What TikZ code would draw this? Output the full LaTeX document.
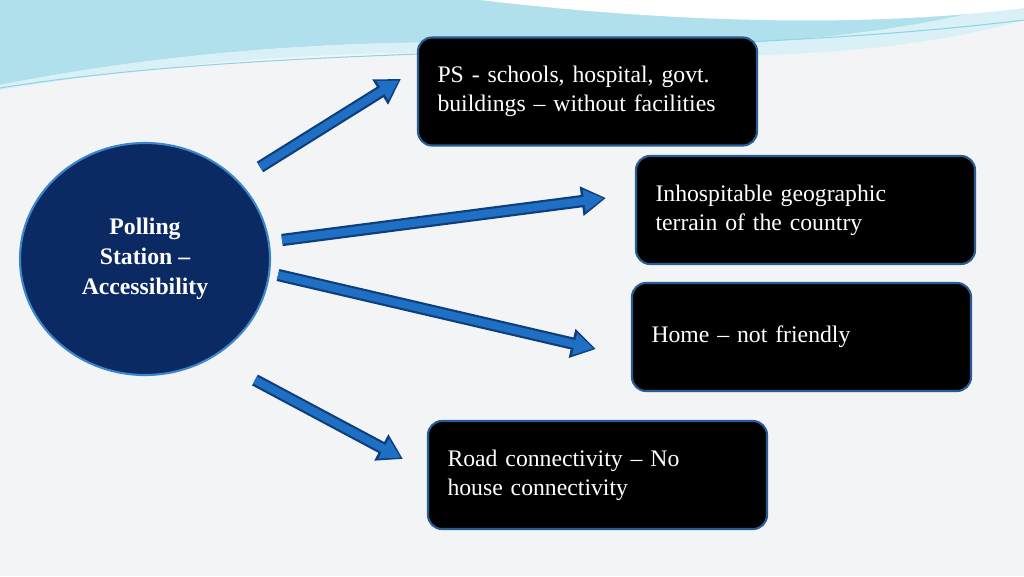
\documentclass[tikz,border=0pt]{standalone}
\usepackage{fontspec}
\setmainfont{Liberation Serif}
\usetikzlibrary{arrows.meta,shapes.geometric}
\definecolor{bg}{HTML}{F3F4F6}
\definecolor{navy}{HTML}{0B2A63}
\definecolor{ringc}{HTML}{3C86C9}
\definecolor{arrf}{HTML}{1F6FC5}
\definecolor{arro}{HTML}{0E3F7A}
\definecolor{sky}{HTML}{8FD3E6}
\definecolor{boxb}{HTML}{2A5C94}
\tikzset{
  box/.style={draw=boxb,line width=1.2pt,fill=black,rounded corners=8pt,minimum width=339*0.02cm,minimum height=108*0.02cm,text width=300*0.02cm,align=left,text=white,font=\fontsize{13.5}{16.5}\selectfont,inner sep=0pt},
  blk/.style={line width=7pt,draw=arro,-{Triangle[length=14pt,width=16pt]}},
  blkin/.style={line width=4.5pt,draw=arrf,shorten >=1.5pt,-{Triangle[length=11pt,width=12pt]}}
}
\begin{document}
\begin{tikzpicture}[x=0.02cm,y=-0.02cm]
\fill[bg] (0,0) rectangle (1024,576);
\useasboundingbox (0,0) rectangle (1024,576);
% top swoosh
\fill[sky!70] (0,0) -- (0,85) .. controls (150,55) and (350,35) .. (560,45) .. controls (750,50) and (900,35) .. (1024,0) -- cycle;
\fill[sky!35] (0,85) .. controls (150,55) and (350,35) .. (560,45) .. controls (750,50) and (900,35) .. (1024,0) -- (1024,20) .. controls (900,55) and (750,60) .. (560,55) .. controls (350,45) and (150,65) .. (0,90) -- cycle;
\fill[white] (480,0) .. controls (650,20) and (850,30) .. (1024,8) -- (1024,0) -- cycle;
\draw[sky,line width=0.6pt] (0,88) .. controls (300,40) and (700,60) .. (1024,20);
% nodes
\node[ellipse,draw=ringc,line width=1.2pt,fill=navy,minimum width=250*0.02cm,minimum height=232*0.02cm,align=center,text=white,font=\bfseries\fontsize{13.5}{17}\selectfont] (c) at (145,259) {Polling\\Station --\\Accessibility};
\node[box] (b1) at (587.5,91.5) {PS - schools, hospital, govt.\\buildings -- without facilities};
\node[box] (b2) at (805.5,210) {Inhospitable geographic\\terrain of the country};
\node[box] (b3) at (801.5,337) {Home -- not friendly};
\node[box] (b4) at (597.5,475) {Road connectivity -- No\\house connectivity};
% arrows
\coordinate (s1) at (260,167); \coordinate (e1) at (401,79);
\coordinate (s2) at (282,240); \coordinate (e2) at (606,198);
\coordinate (s3) at (278,275); \coordinate (e3) at (596,349);
\coordinate (s4) at (255,380); \coordinate (e4) at (403,459);
\foreach \i in {1,2,3,4}{
  \draw[blk] (s\i) -- (e\i);
  \draw[blkin] (s\i) -- (e\i);
}
\end{tikzpicture}
\end{document}
